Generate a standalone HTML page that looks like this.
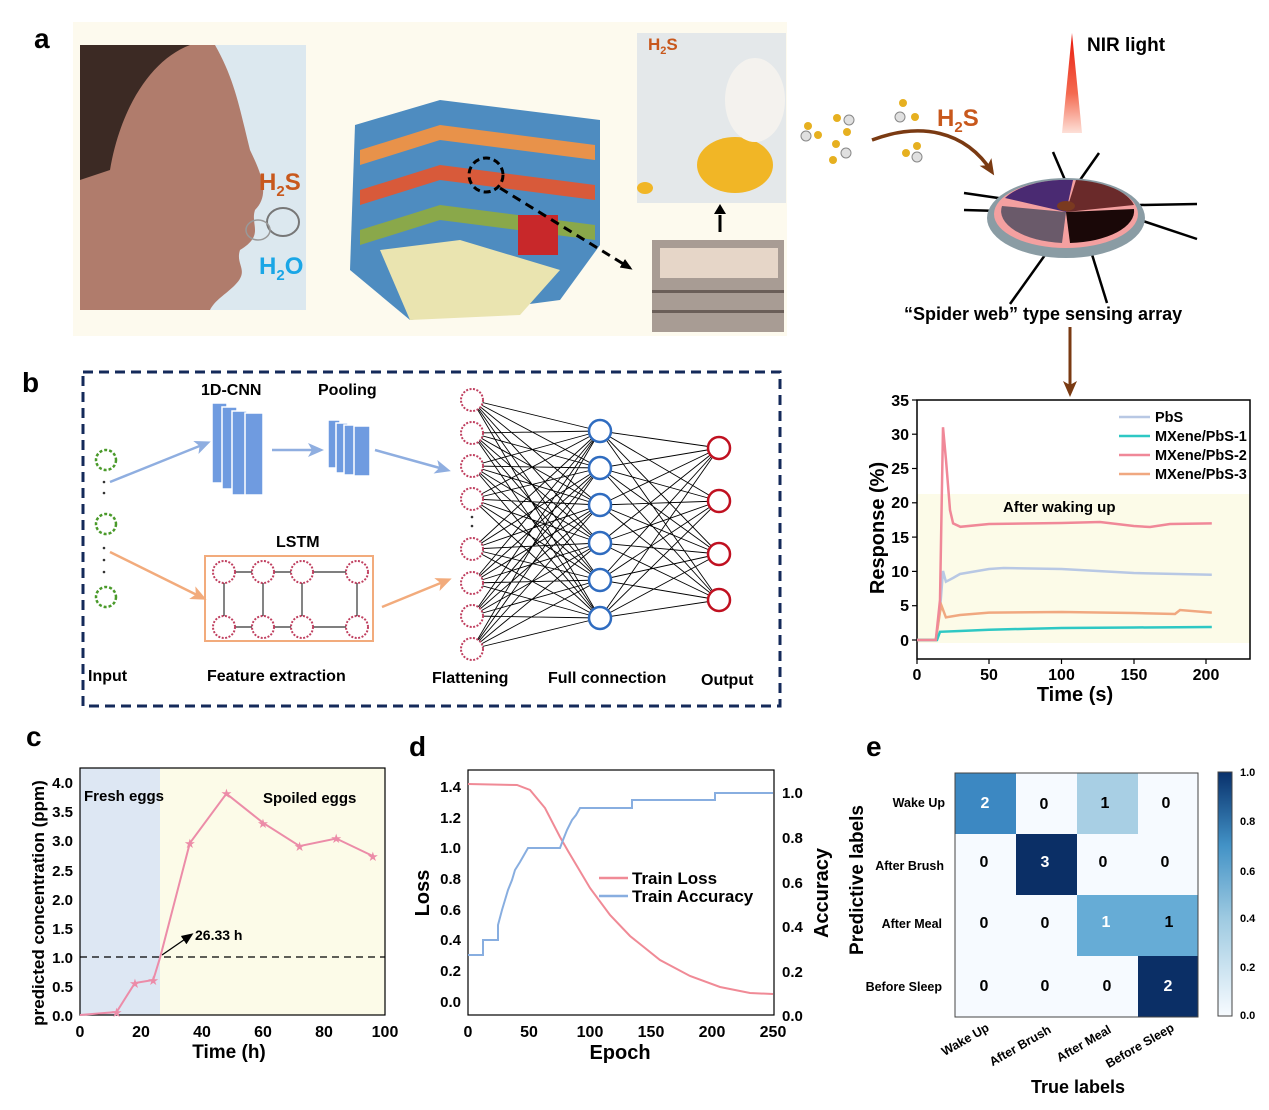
<!DOCTYPE html>
<html><head><meta charset="utf-8"><style>
html,body{margin:0;padding:0;background:#fff}
svg{display:block;font-family:"Liberation Sans",Arial,sans-serif}
.b{font-weight:bold}
</style></head><body>
<svg width="1269" height="1110" viewBox="0 0 1269 1110" xmlns="http://www.w3.org/2000/svg">
<defs>
<linearGradient id="nir" x1="0" y1="0" x2="0" y2="1"><stop offset="0" stop-color="#e8180a"/><stop offset="0.6" stop-color="#f46a50"/><stop offset="1" stop-color="#fde0d8"/></linearGradient>
<marker id="ab" markerUnits="userSpaceOnUse" markerWidth="12" markerHeight="12" refX="9" refY="6" orient="auto"><path d="M0,1 L12,6 L0,11 z" fill="#000"/></marker>
<marker id="abl" markerUnits="userSpaceOnUse" markerWidth="16" markerHeight="16" refX="12" refY="8" orient="auto"><path d="M0,1 L16,8 L0,15 L4,8 z" fill="#8faee0"/></marker>
<marker id="aor" markerUnits="userSpaceOnUse" markerWidth="16" markerHeight="16" refX="12" refY="8" orient="auto"><path d="M0,1 L16,8 L0,15 L4,8 z" fill="#f2ab7c"/></marker>
<marker id="abr" markerUnits="userSpaceOnUse" markerWidth="16" markerHeight="16" refX="12" refY="8" orient="auto"><path d="M0,1 L16,8 L0,15 L4,8 z" fill="#7a3a12"/></marker>
</defs>

<!-- Panel a -->
<text x="34" y="48" class="b" font-size="28">a</text>
<rect x="73" y="22" width="714" height="314" fill="#fdfaee"/>
<rect x="80" y="45" width="226" height="265" fill="#dce8ef"/>
<path d="M80,45 L215,45 C235,80 240,110 250,150 C262,175 270,195 255,210 C250,225 265,235 240,250 C235,265 250,270 235,285 C225,295 215,300 210,310 L80,310 Z" fill="#b07c6c"/>
<path d="M80,45 L190,45 C150,60 120,110 110,170 L80,180 Z" fill="#3c2a24"/>
<text x="259" y="190" class="b" font-size="24" fill="#c8581c">H<tspan font-size="15" dy="6">2</tspan><tspan dy="-6">S</tspan></text>
<text x="259" y="274" class="b" font-size="24" fill="#1aa6e6">H<tspan font-size="15" dy="6">2</tspan><tspan dy="-6">O</tspan></text>
<ellipse cx="283" cy="222" rx="16" ry="14" fill="none" stroke="#777" stroke-width="2"/>
<ellipse cx="258" cy="230" rx="12" ry="10" fill="none" stroke="#999" stroke-width="1.5"/>
<!-- store -->
<path d="M355,125 L440,100 L600,120 L600,245 L560,300 L410,320 L350,270 Z" fill="#4e8cc0"/>
<path d="M360,150 L440,125 L595,145 L595,160 L440,140 L360,165 Z" fill="#e8924a"/>
<path d="M360,190 L440,165 L595,185 L595,200 L440,180 L360,205 Z" fill="#d85a3a"/>
<path d="M360,230 L440,205 L595,225 L595,240 L440,220 L360,245 Z" fill="#8aa84a"/>
<path d="M380,250 L460,240 L560,270 L520,315 L410,320 Z" fill="#eae4b0"/>
<rect x="518" y="215" width="40" height="40" fill="#c8282a"/>
<circle cx="486" cy="175" r="17" fill="none" stroke="#000" stroke-width="3" stroke-dasharray="7,4"/>
<path d="M500,188 L630,268" stroke="#000" stroke-width="3" stroke-dasharray="9,6" marker-end="url(#ab)"/>
<!-- egg image -->
<rect x="637" y="33" width="149" height="170" fill="#e4e8ea"/>
<ellipse cx="735" cy="165" rx="38" ry="28" fill="#f1b626"/>
<ellipse cx="755" cy="100" rx="30" ry="42" fill="#f4f2ee"/>
<ellipse cx="645" cy="188" rx="8" ry="6" fill="#f1b626"/>
<text x="648" y="50" class="b" font-size="17" fill="#c8581c">H<tspan font-size="11" dy="4">2</tspan><tspan dy="-4">S</tspan></text>
<path d="M720,215 L720,232" stroke="#000" stroke-width="3"/>
<path d="M714,214 L720,204 L726,214 z" fill="#000"/>
<rect x="652" y="240" width="132" height="92" fill="#a89c94"/>
<rect x="660" y="248" width="118" height="30" fill="#e6d6c8"/>
<rect x="652" y="290" width="132" height="3" fill="#6a5e58"/>
<rect x="652" y="310" width="132" height="3" fill="#6a5e58"/>

<!-- molecules -->
<g fill="#e6b020"><circle cx="808" cy="126" r="4"/><circle cx="818" cy="135" r="4"/><circle cx="837" cy="118" r="4"/><circle cx="847" cy="132" r="4"/><circle cx="836" cy="144" r="4"/><circle cx="833" cy="160" r="4"/><circle cx="903" cy="103" r="4"/><circle cx="915" cy="117" r="4"/><circle cx="906" cy="153" r="4"/><circle cx="917" cy="146" r="4"/></g>
<g fill="#e0e0e0" stroke="#888"><circle cx="806" cy="136" r="5"/><circle cx="849" cy="120" r="5"/><circle cx="846" cy="153" r="5"/><circle cx="900" cy="117" r="5"/><circle cx="917" cy="157" r="5"/></g>
<text x="937" y="126" class="b" font-size="24" fill="#c8581c">H<tspan font-size="15" dy="6">2</tspan><tspan dy="-6">S</tspan></text>
<path d="M872,140 C920,122 965,130 992,172" stroke="#7a3a12" stroke-width="3.5" fill="none" marker-end="url(#abr)"/>
<path d="M1072,33 L1062,133 L1082,133 Z" fill="url(#nir)"/>
<text x="1087" y="51" class="b" font-size="19">NIR light</text>
<!-- disk -->
<g stroke="#000" stroke-width="2.5">
<line x1="1053" y1="152" x2="1065" y2="180"/><line x1="1099" y1="153" x2="1080" y2="180"/>
<line x1="964" y1="193" x2="1005" y2="199"/><line x1="964" y1="210" x2="1000" y2="211"/>
<line x1="1140" y1="205" x2="1197" y2="204"/><line x1="1140" y1="220" x2="1197" y2="239"/>
<line x1="1050" y1="248" x2="1010" y2="304"/><line x1="1090" y1="248" x2="1107" y2="303"/>
</g>
<ellipse cx="1066" cy="218" rx="79" ry="40" fill="#8a9ca4"/>
<ellipse cx="1066" cy="214" rx="72" ry="34" fill="#f4a0a0"/>
<path d="M1066,212 L1005,198 A68,32 0 0 1 1073,180 Z" fill="#4a2a72"/>
<path d="M1066,212 L1076,180 A68,32 0 0 1 1134,205 Z" fill="#6a2a2a"/>
<path d="M1066,212 L1134,209 A68,32 0 0 1 1070,243 Z" fill="#1a0808"/>
<path d="M1066,212 L1062,243 A68,32 0 0 1 1002,206 Z" fill="#6a5a6a"/>
<ellipse cx="1066" cy="206" rx="9" ry="5" fill="#7a3a20"/>
<text x="904" y="320" class="b" font-size="18">“Spider web” type sensing array</text>
<path d="M1070,327 L1070,393" stroke="#7a3a12" stroke-width="3" marker-end="url(#abr)"/>

<!-- Panel b -->
<text x="22" y="392" class="b" font-size="28">b</text>
<rect x="83" y="372" width="697" height="334" fill="none" stroke="#142a5a" stroke-width="3" stroke-dasharray="10,6"/>
<g fill="none" stroke="#4a9a2a" stroke-width="2.5" stroke-dasharray="3,2"><circle cx="106" cy="460" r="10"/><circle cx="106" cy="524" r="10"/><circle cx="106" cy="597" r="10"/></g>
<g fill="#333"><circle cx="104" cy="482" r="1.3"/><circle cx="104" cy="493" r="1.3"/><circle cx="104" cy="548" r="1.3"/><circle cx="104" cy="560" r="1.3"/><circle cx="104" cy="572" r="1.3"/></g>
<line x1="110" y1="482" x2="207" y2="443" stroke="#8faee0" stroke-width="2.5" marker-end="url(#abl)"/>
<line x1="110" y1="552" x2="203" y2="598" stroke="#f2ab7c" stroke-width="2.5" marker-end="url(#aor)"/>
<text x="201" y="395" class="b" font-size="16">1D-CNN</text>
<text x="318" y="395" class="b" font-size="16">Pooling</text>
<g fill="#6f9be0" stroke="#fff" stroke-width="1.5"><rect x="212" y="403" width="15" height="80"/><rect x="222" y="407" width="15" height="82"/><rect x="232" y="411" width="15" height="84"/><rect x="245" y="413" width="18" height="82"/></g>
<line x1="272" y1="450" x2="320" y2="450" stroke="#8faee0" stroke-width="2.5" marker-end="url(#abl)"/>
<g fill="#6f9be0" stroke="#fff" stroke-width="1.5"><rect x="328" y="420" width="12" height="48"/><rect x="336" y="423" width="12" height="50"/><rect x="344" y="425" width="12" height="50"/><rect x="354" y="426" width="16" height="50"/></g>
<line x1="375" y1="450" x2="447" y2="470" stroke="#8faee0" stroke-width="2.5" marker-end="url(#abl)"/>
<text x="276" y="547" class="b" font-size="16">LSTM</text>
<rect x="205" y="556" width="168" height="85" fill="none" stroke="#f2ab7c" stroke-width="2"/>
<g stroke="#333" stroke-width="1.2"><line x1="224" y1="572" x2="357" y2="572"/><line x1="224" y1="627" x2="357" y2="627"/><line x1="224" y1="572" x2="224" y2="627"/><line x1="263" y1="572" x2="263" y2="627"/><line x1="302" y1="572" x2="302" y2="627"/><line x1="357" y1="572" x2="357" y2="627"/></g>
<g fill="#fff" stroke="#c04060" stroke-width="2" stroke-dasharray="2,1.5"><circle cx="224" cy="572" r="11"/><circle cx="263" cy="572" r="11"/><circle cx="302" cy="572" r="11"/><circle cx="357" cy="572" r="11"/><circle cx="224" cy="627" r="11"/><circle cx="263" cy="627" r="11"/><circle cx="302" cy="627" r="11"/><circle cx="357" cy="627" r="11"/></g>
<line x1="382" y1="607" x2="448" y2="580" stroke="#f2ab7c" stroke-width="2.5" marker-end="url(#aor)"/>
<g stroke="#000" stroke-width="0.9">
<path d="M472,400L600,431M472,400L600,468M472,400L600,505M472,400L600,543M472,400L600,580M472,400L600,618
M472,433L600,431M472,433L600,468M472,433L600,505M472,433L600,543M472,433L600,580M472,433L600,618
M472,466L600,431M472,466L600,468M472,466L600,505M472,466L600,543M472,466L600,580M472,466L600,618
M472,499L600,431M472,499L600,468M472,499L600,505M472,499L600,543M472,499L600,580M472,499L600,618
M472,549L600,431M472,549L600,468M472,549L600,505M472,549L600,543M472,549L600,580M472,549L600,618
M472,583L600,431M472,583L600,468M472,583L600,505M472,583L600,543M472,583L600,580M472,583L600,618
M472,616L600,431M472,616L600,468M472,616L600,505M472,616L600,543M472,616L600,580M472,616L600,618
M472,649L600,431M472,649L600,468M472,649L600,505M472,649L600,543M472,649L600,580M472,649L600,618
M600,431L719,448M600,431L719,501M600,431L719,554M600,431L719,600
M600,468L719,448M600,468L719,501M600,468L719,554M600,468L719,600
M600,505L719,448M600,505L719,501M600,505L719,554M600,505L719,600
M600,543L719,448M600,543L719,501M600,543L719,554M600,543L719,600
M600,580L719,448M600,580L719,501M600,580L719,554M600,580L719,600
M600,618L719,448M600,618L719,501M600,618L719,554M600,618L719,600"/>
</g>
<g fill="#fff" stroke="#c04060" stroke-width="2" stroke-dasharray="2,1.5"><circle cx="472" cy="400" r="11"/><circle cx="472" cy="433" r="11"/><circle cx="472" cy="466" r="11"/><circle cx="472" cy="499" r="11"/><circle cx="472" cy="549" r="11"/><circle cx="472" cy="583" r="11"/><circle cx="472" cy="616" r="11"/><circle cx="472" cy="649" r="11"/></g>
<g fill="#333"><circle cx="472" cy="517" r="1.3"/><circle cx="472" cy="526" r="1.3"/></g>
<g fill="#fff" stroke="#2f6cc0" stroke-width="2.5"><circle cx="600" cy="431" r="11"/><circle cx="600" cy="468" r="11"/><circle cx="600" cy="505" r="11"/><circle cx="600" cy="543" r="11"/><circle cx="600" cy="580" r="11"/><circle cx="600" cy="618" r="11"/></g>
<g fill="#fff" stroke="#c01020" stroke-width="2.5"><circle cx="719" cy="448" r="11"/><circle cx="719" cy="501" r="11"/><circle cx="719" cy="554" r="11"/><circle cx="719" cy="600" r="11"/></g>
<g class="b" font-size="16"><text x="88" y="681">Input</text><text x="207" y="681">Feature extraction</text><text x="432" y="683">Flattening</text><text x="548" y="683">Full connection</text><text x="701" y="685">Output</text></g>

<!-- response chart -->
<rect x="917" y="494" width="333" height="149" fill="#fcfbe8"/>
<rect x="917" y="400" width="333" height="259" fill="none" stroke="#000" stroke-width="1.5"/>
<g stroke="#000" stroke-width="1.2">
<line x1="912" y1="640" x2="917" y2="640"/><line x1="912" y1="605.7" x2="917" y2="605.7"/><line x1="912" y1="571.4" x2="917" y2="571.4"/><line x1="912" y1="537.1" x2="917" y2="537.1"/><line x1="912" y1="502.8" x2="917" y2="502.8"/><line x1="912" y1="468.5" x2="917" y2="468.5"/><line x1="912" y1="434.2" x2="917" y2="434.2"/><line x1="912" y1="400" x2="917" y2="400"/>
<line x1="917" y1="659" x2="917" y2="664"/><line x1="989" y1="659" x2="989" y2="664"/><line x1="1061.5" y1="659" x2="1061.5" y2="664"/><line x1="1134" y1="659" x2="1134" y2="664"/><line x1="1206" y1="659" x2="1206" y2="664"/>
</g>
<g class="b" font-size="16" text-anchor="end"><text x="909" y="646">0</text><text x="909" y="611">5</text><text x="909" y="577">10</text><text x="909" y="543">15</text><text x="909" y="508">20</text><text x="909" y="474">25</text><text x="909" y="440">30</text><text x="909" y="406">35</text></g>
<g class="b" font-size="16" text-anchor="middle"><text x="917" y="680">0</text><text x="989" y="680">50</text><text x="1061.5" y="680">100</text><text x="1134" y="680">150</text><text x="1206" y="680">200</text></g>
<text x="1075" y="701" class="b" font-size="20" text-anchor="middle">Time (s)</text>
<text transform="translate(884,528) rotate(-90)" class="b" font-size="20" text-anchor="middle">Response (%)</text>
<text x="1003" y="512" class="b" font-size="15">After waking up</text>
<g fill="none" stroke-width="2.5">
<polyline stroke="#b8c8e4" points="917,640 935.8,640 940,610 943,571 945.9,581.7 953,578 960,574 989,569 1003.7,568 1061.5,569 1133.8,573 1211.8,574.8"/>
<polyline stroke="#f0a880" points="917,640 935.8,640 940,612 941.5,605.7 945.9,617.4 960,615 989,612.6 1061.5,612 1133.8,613 1175,614 1180,610 1211.8,612.6"/>
<polyline stroke="#2ec8c4" points="917,640 937,640 940,631.8 960,631 989,629.7 1061.5,628 1133.8,627.5 1211.8,627"/>
<polyline stroke="#f08898" points="917,640 935.8,640 940,600 943,427.3 946,460 950,510 953.1,523.4 960.4,526.8 989,524 1061.5,523 1100,522 1133.8,526 1150,527 1170,524 1211.8,523.4"/>
</g>
<g font-size="14.5" class="b"><text x="1155" y="422">PbS</text><text x="1155" y="441">MXene/PbS-1</text><text x="1155" y="460">MXene/PbS-2</text><text x="1155" y="479">MXene/PbS-3</text></g>
<g stroke-width="2.5"><line x1="1119" y1="417" x2="1150" y2="417" stroke="#b8c8e4"/><line x1="1119" y1="436" x2="1150" y2="436" stroke="#2ec8c4"/><line x1="1119" y1="455" x2="1150" y2="455" stroke="#f08898"/><line x1="1119" y1="474" x2="1150" y2="474" stroke="#f0a880"/></g>

<!-- Panel c -->
<text x="26" y="746" class="b" font-size="28">c</text>
<rect x="80" y="768" width="80" height="247" fill="#dde7f3"/>
<rect x="160" y="768" width="225" height="247" fill="#fcfbe8"/>
<rect x="80" y="768" width="305" height="247" fill="none" stroke="#000" stroke-width="1.2"/>
<g class="b" font-size="15" text-anchor="end"><text x="73" y="1021">0.0</text><text x="73" y="992">0.5</text><text x="73" y="963">1.0</text><text x="73" y="934">1.5</text><text x="73" y="905">2.0</text><text x="73" y="876">2.5</text><text x="73" y="846">3.0</text><text x="73" y="817">3.5</text><text x="73" y="788">4.0</text></g>
<g class="b" font-size="16" text-anchor="middle"><text x="80" y="1037">0</text><text x="141" y="1037">20</text><text x="202" y="1037">40</text><text x="263" y="1037">60</text><text x="324" y="1037">80</text><text x="385" y="1037">100</text></g>
<text x="229" y="1058" class="b" font-size="19" text-anchor="middle">Time (h)</text>
<text transform="translate(44,903) rotate(-90)" class="b" font-size="17" text-anchor="middle">predicted concentration (ppm)</text>
<text x="84" y="801" class="b" font-size="15">Fresh eggs</text>
<text x="263" y="803" class="b" font-size="15">Spoiled eggs</text>
<line x1="80" y1="957" x2="385" y2="957" stroke="#000" stroke-width="1.3" stroke-dasharray="7,5"/>
<line x1="162" y1="955" x2="191" y2="935" stroke="#000" stroke-width="1.3" marker-end="url(#ab)"/>
<text x="195" y="940" class="b" font-size="14">26.33 h</text>
<polyline fill="none" stroke="#ec8ca8" stroke-width="2" points="80,1015 116.6,1012 134.9,983 153.2,980 160.3,956.8 189.8,843.2 226.4,793.7 263,822.8 299.6,846.1 336.2,838.5 372.8,856"/>
<g fill="#ec8ca8" font-size="13" text-anchor="middle"><text x="116.6" y="1017">★</text><text x="134.9" y="988">★</text><text x="153.2" y="985">★</text><text x="189.8" y="848">★</text><text x="226.4" y="798">★</text><text x="263" y="828">★</text><text x="299.6" y="851">★</text><text x="336.2" y="843">★</text><text x="372.8" y="861">★</text></g>

<!-- Panel d -->
<text x="409" y="756" class="b" font-size="28">d</text>
<rect x="468" y="770" width="306" height="245" fill="none" stroke="#000" stroke-width="1.2"/>
<g class="b" font-size="15" text-anchor="end"><text x="461" y="1007">0.0</text><text x="461" y="976">0.2</text><text x="461" y="945">0.4</text><text x="461" y="915">0.6</text><text x="461" y="884">0.8</text><text x="461" y="853">1.0</text><text x="461" y="823">1.2</text><text x="461" y="792">1.4</text></g>
<g class="b" font-size="15"><text x="782" y="1021">0.0</text><text x="782" y="977">0.2</text><text x="782" y="932">0.4</text><text x="782" y="888">0.6</text><text x="782" y="843">0.8</text><text x="782" y="798">1.0</text></g>
<g class="b" font-size="16" text-anchor="middle"><text x="468" y="1037">0</text><text x="529" y="1037">50</text><text x="590" y="1037">100</text><text x="651" y="1037">150</text><text x="712" y="1037">200</text><text x="773" y="1037">250</text></g>
<text x="620" y="1059" class="b" font-size="20" text-anchor="middle">Epoch</text>
<text transform="translate(429,893) rotate(-90)" class="b" font-size="20" text-anchor="middle">Loss</text>
<text transform="translate(828,893) rotate(-90)" class="b" font-size="20" text-anchor="middle">Accuracy</text>
<polyline fill="none" stroke="#f08a96" stroke-width="2" points="468,784 517,785 530,790 545,808 560,837 568,851 590,888 610,915 630,936 660,960 690,976 720,987 750,993 773,994"/>
<polyline fill="none" stroke="#88aee0" stroke-width="2" points="468,955 483,955 483,940 498,940 498,925 502,910 505,900 508,890 512,880 515,870 520,862 524,855 528,848 560,848 563,840 567,830 572,820 576,815 580,808 632,808 632,800 715,800 715,793 773,793"/>
<g class="b" font-size="17"><text x="632" y="884">Train Loss</text><text x="632" y="902">Train Accuracy</text></g>
<line x1="599" y1="878" x2="628" y2="878" stroke="#f08a96" stroke-width="2.5"/>
<line x1="599" y1="896" x2="628" y2="896" stroke="#88aee0" stroke-width="2.5"/>

<!-- Panel e -->
<text x="866" y="756" class="b" font-size="28">e</text>
<rect x="955" y="773" width="61" height="61" fill="#3c88c2"/>
<rect x="1016" y="773" width="61" height="61" fill="#f6faff"/>
<rect x="1077" y="773" width="61" height="61" fill="#a8cfe4"/>
<rect x="1138" y="773" width="60" height="61" fill="#f6faff"/>
<rect x="955" y="834" width="61" height="61" fill="#f6faff"/>
<rect x="1016" y="834" width="61" height="61" fill="#0b2f66"/>
<rect x="1077" y="834" width="121" height="61" fill="#f6faff"/>
<rect x="955" y="895" width="122" height="61" fill="#f6faff"/>
<rect x="1077" y="895" width="121" height="61" fill="#66acd6"/>
<rect x="955" y="956" width="183" height="61" fill="#f6faff"/>
<rect x="1138" y="956" width="60" height="61" fill="#0b2f66"/>
<rect x="955" y="773" width="243" height="244" fill="none" stroke="#444" stroke-width="1"/>
<g class="b" font-size="16" text-anchor="middle">
<text x="985" y="808" fill="#fff">2</text><text x="1044" y="809">0</text><text x="1105" y="808">1</text><text x="1166" y="808">0</text>
<text x="984" y="867">0</text><text x="1045" y="867" fill="#fff">3</text><text x="1103" y="867">0</text><text x="1165" y="867">0</text>
<text x="984" y="928">0</text><text x="1045" y="928">0</text><text x="1106" y="927" fill="#fff">1</text><text x="1169" y="927">1</text>
<text x="984" y="991">0</text><text x="1045" y="991">0</text><text x="1107" y="991">0</text><text x="1168" y="991" fill="#fff">2</text></g>
<g class="b" font-size="12.5" text-anchor="end"><text x="945" y="807">Wake Up</text><text x="944" y="870">After Brush</text><text x="942" y="928">After Meal</text><text x="942" y="991">Before Sleep</text></g>
<g class="b" font-size="12.5" text-anchor="end">
<text transform="translate(990,1030) rotate(-30)">Wake Up</text>
<text transform="translate(1052,1032) rotate(-30)">After Brush</text>
<text transform="translate(1112,1032) rotate(-30)">After Meal</text>
<text transform="translate(1175,1030) rotate(-30)">Before Sleep</text></g>
<text x="1078" y="1093" class="b" font-size="18" text-anchor="middle">True labels</text>
<text transform="translate(863,880) rotate(-90)" class="b" font-size="19" text-anchor="middle">Predictive labels</text>
<linearGradient id="cb" x1="0" y1="1" x2="0" y2="0"><stop offset="0" stop-color="#f7fbff"/><stop offset="0.4" stop-color="#9ecae1"/><stop offset="0.7" stop-color="#4292c6"/><stop offset="1" stop-color="#08306b"/></linearGradient>
<rect x="1218" y="772" width="14" height="244" fill="url(#cb)" stroke="#444" stroke-width="1"/>
<g class="b" font-size="11"><text x="1240" y="776">1.0</text><text x="1240" y="825">0.8</text><text x="1240" y="875">0.6</text><text x="1240" y="922">0.4</text><text x="1240" y="971">0.2</text><text x="1240" y="1019">0.0</text></g>
</svg>
</body></html>
